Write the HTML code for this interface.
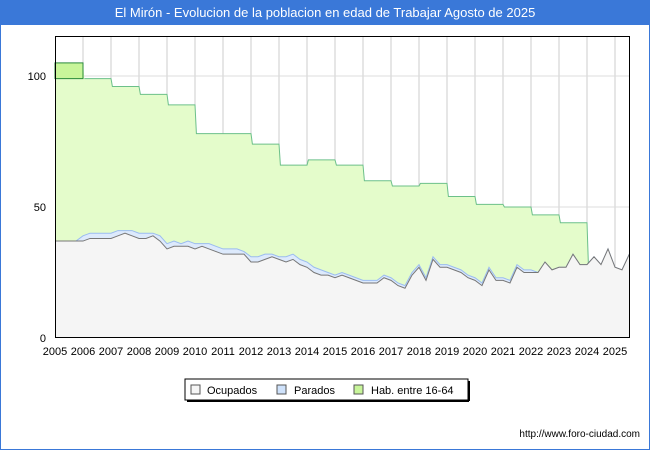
<!DOCTYPE html>
<html><head><meta charset="utf-8"><style>
body{margin:0;background:#fff;font-family:"Liberation Sans",sans-serif}
#wrap{position:relative;width:650px;height:450px;border:0;box-sizing:border-box}
</style></head><body>
<div id="wrap">
<svg id="c" width="650" height="450" xmlns="http://www.w3.org/2000/svg">
<defs><clipPath id="pc"><rect x="55" y="36" width="575" height="302"/></clipPath></defs>
<rect x="0" y="0" width="650" height="24" fill="#3a78d8"/>
<text x="325" y="17" text-anchor="middle" font-size="13" fill="#fff" font-family="Liberation Sans">El Mirón - Evolucion de la poblacion en edad de Trabajar Agosto de 2025</text>
<rect x="0.5" y="24.5" width="649" height="425" fill="none" stroke="#3a78d8"/>
<g id="plot"></g>
<g>
<rect x="185" y="379" width="283" height="21" fill="#fff" stroke="#000"/>
<line x1="469" y1="381" x2="469" y2="401" stroke="#000" stroke-width="2"/>
<line x1="187" y1="401" x2="469" y2="401" stroke="#000" stroke-width="2"/>
<rect x="191" y="385" width="9" height="9" fill="#f5f5f5" stroke="#555"/>
<text x="207" y="394" font-size="11">Ocupados</text>
<rect x="277" y="385" width="9" height="9" fill="#cfe2fb" stroke="#555"/>
<text x="294" y="394" font-size="11">Parados</text>
<rect x="354" y="385" width="9" height="9" fill="#c8f59a" stroke="#555"/>
<text x="371" y="394" font-size="11">Hab. entre 16-64</text>
</g>
<text x="640" y="437" text-anchor="end" font-size="10">http://www.foro-ciudad.com</text>
</svg>
</div>
<script>
const years=[2005,2006,2007,2008,2009,2010,2011,2012,2013,2014,2015,2016,2017,2018,2019,2020,2021,2022,2023];
const habValues=[105,99,96,93,89,78,78,74,66,68,66,60,58,59,54,51,50,47,44];
const yTicks=[0,50,100];
const xTicks=[2005,2006,2007,2008,2009,2010,2011,2012,2013,2014,2015,2016,2017,2018,2019,2020,2021,2022,2023,2024,2025];
// quarterly from 2005 Q1
const ocupados=[37,37,37,37, 37,38,38,38, 38,39,40,39, 38,38,39,37, 34,35,35,35, 34,35,34,33, 32,32,32,32, 29,29,30,31, 30,29,30,28, 27,25,24,24, 23,24,23,22, 21,21,21,23, 22,20,19,24, 27,22,30,27, 27,26,25,23, 22,20,26,22, 22,21,27,25, 25,25,29,26, 27,27,32,28, 28,31,28,34, 27,26,34];
const parados=[0,0,0,0, 2,2,2,2, 2,2,1,2, 2,2,1,2, 2,2,1,2, 2,1,2,2, 2,2,2,1, 2,2,2,1, 1,2,2,2, 2,2,2,1, 1,1,1,1, 1,1,1,1, 1,1,1,1, 1,1,1,1, 1,1,1,1, 1,1,1,1, 1,1,1,1, 1,0,0,0, 0,0,0,0, 0,0,0,0, 0,0,0];
const X=v=>55+(v-2005)*28, Y=v=>338-v*2.62;
const NS='http://www.w3.org/2000/svg';
const g=document.getElementById('plot');
function mk(t,a){const e=document.createElementNS(NS,t);for(const k in a)e.setAttribute(k,a[k]);g.appendChild(e);return e;}
const tx=i=>2005+i/4+(i>=82?0.1:0);
xTicks.forEach(t=>{if(t>2005){const l=mk('line',{x1:X(t),x2:X(t),y1:36,y2:338,stroke:'#ccc'});

}});
yTicks.forEach(t=>{if(t>0){const l=mk('line',{x1:55,x2:630,y1:Y(t),y2:Y(t),stroke:'#ddd'});

}});
let hp=[];
habValues.forEach((v,i)=>{const y=years[i];if(i>0)hp.push([X(y),Y(habValues[i-1])]);hp.push([X(y+(i>0?0.05:0)),Y(v)]);hp.push([X(y+1),Y(v)]);});
const endOc=ocupados[76];
hp.push([X(2024.05),Y(endOc)]);
const habA=mk('polygon',{points:hp.map(p=>p.join(',')).join(' ')+` ${X(2024.05)},338 55,338`,fill:'#e4fccb',stroke:'none','clip-path':'url(#pc)'});


const first=mk('rect',{x:55,y:Y(habValues[0]),width:X(2006)-55,height:Y(99)-Y(habValues[0]),fill:'#c8f59a',stroke:'#2a8a3a'});


const habL=mk('polyline',{points:hp.slice(3).map(p=>p.join(',')).join(' '),fill:'none',stroke:'#6cc08a'});


const topPts=ocupados.map((v,i)=>[X(tx(i)),Y(v+parados[i])]);
const pa=mk('polygon',{points:topPts.map(p=>p.join(',')).join(' ')+` ${topPts[topPts.length-1][0]},338 55,338`,fill:'#ddeafc',stroke:'#9bbcf0','clip-path':'url(#pc)'});


const op=ocupados.map((v,i)=>[X(tx(i)),Y(v)]);
const oa=mk('polygon',{points:op.map(p=>p.join(',')).join(' ')+` ${op[op.length-1][0]},338 55,338`,fill:'#f5f5f5',stroke:'none','clip-path':'url(#pc)'});


const ol=mk('polyline',{points:op.map(p=>p.join(',')).join(' '),fill:'none',stroke:'#777','clip-path':'url(#pc)'});


const fr=mk('rect',{x:55.5,y:36.5,width:574,height:301,fill:'none',stroke:'#000'});


yTicks.forEach(t=>{const e=mk('text',{x:46,y:Y(t)+4,'text-anchor':'end','font-size':11});e.textContent=t;

});
xTicks.forEach(t=>{const e=mk('text',{x:X(t),y:355,'text-anchor':'middle','font-size':11});e.textContent=t;

});
</script>
</body></html>
